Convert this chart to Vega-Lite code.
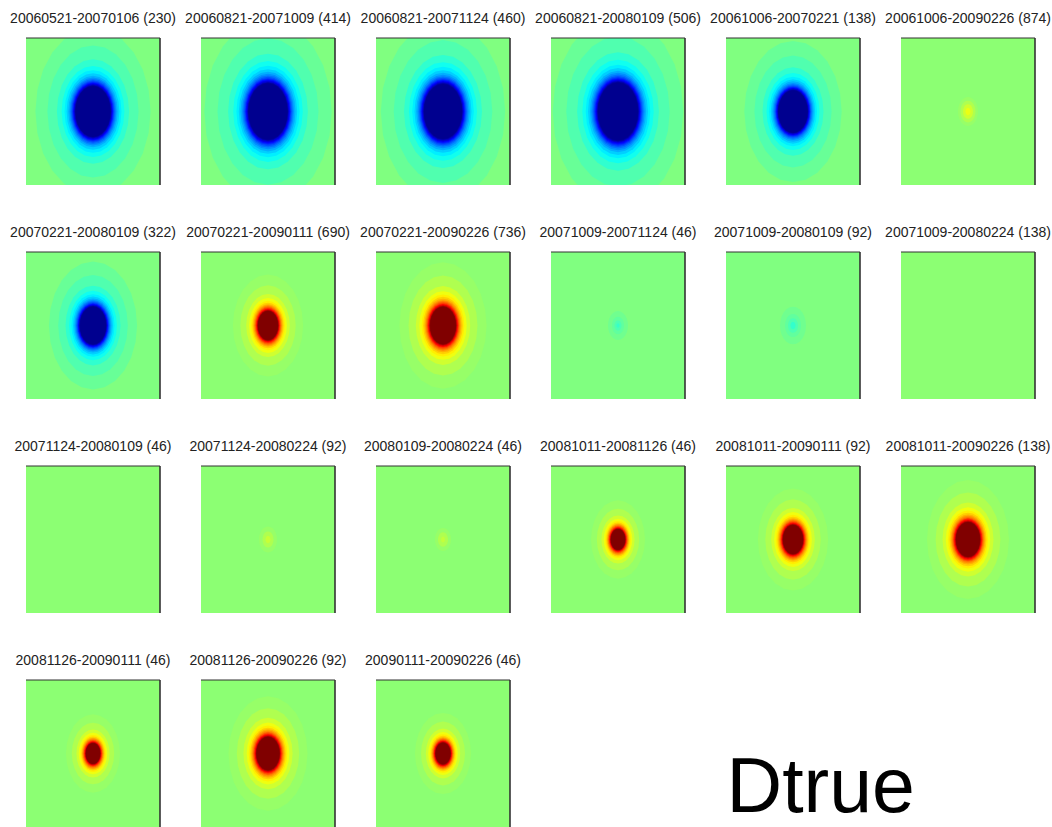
{
"$schema":"https://vega.github.io/schema/vega-lite/v6.json",
"background":"white",
"padding":{"left":10,"top":12,"right":0,"bottom":0},
"bounds":"flush",
"config":{"view":{"stroke":null}},
"data":{"values":[
{"i":1,"v":0,"r":200,"bg":1},{"i":1,"v":-0.047,"r":57.6},{"i":1,"v":-0.094,"r":45.6},{"i":1,"v":-0.156,"r":36.1},{"i":1,"v":-0.219,"r":31.4},{"i":1,"v":-0.281,"r":28.5},{"i":1,"v":-0.344,"r":26.4},{"i":1,"v":-0.406,"r":24.7},{"i":1,"v":-0.469,"r":23.4},{"i":1,"v":-0.531,"r":22.4},{"i":1,"v":-0.594,"r":21.5},{"i":1,"v":-0.656,"r":20.7},{"i":1,"v":-0.719,"r":20.0},{"i":1,"v":-0.781,"r":19.4},{"i":1,"v":-0.844,"r":18.9},{"i":1,"v":-0.906,"r":18.4},{"i":1,"v":-0.969,"r":17.9},{"i":1,"v":-1,"r":17.5},
{"i":2,"v":0,"r":200,"bg":1},{"i":2,"v":-0.047,"r":63.7},{"i":2,"v":-0.094,"r":50.5},{"i":2,"v":-0.156,"r":39.9},{"i":2,"v":-0.219,"r":34.8},{"i":2,"v":-0.281,"r":31.6},{"i":2,"v":-0.344,"r":29.2},{"i":2,"v":-0.406,"r":27.5},{"i":2,"v":-0.469,"r":26.0},{"i":2,"v":-0.531,"r":24.9},{"i":2,"v":-0.594,"r":23.9},{"i":2,"v":-0.656,"r":23.0},{"i":2,"v":-0.719,"r":22.3},{"i":2,"v":-0.781,"r":21.6},{"i":2,"v":-0.844,"r":21.0},{"i":2,"v":-0.906,"r":20.4},{"i":2,"v":-0.969,"r":20.0},{"i":2,"v":-1,"r":19.5},
{"i":3,"v":0,"r":200,"bg":1},{"i":3,"v":-0.047,"r":62.2},{"i":3,"v":-0.094,"r":49.3},{"i":3,"v":-0.156,"r":39.0},{"i":3,"v":-0.219,"r":34.0},{"i":3,"v":-0.281,"r":30.8},{"i":3,"v":-0.344,"r":28.5},{"i":3,"v":-0.406,"r":26.8},{"i":3,"v":-0.469,"r":25.4},{"i":3,"v":-0.531,"r":24.2},{"i":3,"v":-0.594,"r":23.3},{"i":3,"v":-0.656,"r":22.4},{"i":3,"v":-0.719,"r":21.7},{"i":3,"v":-0.781,"r":21.0},{"i":3,"v":-0.844,"r":20.5},{"i":3,"v":-0.906,"r":19.9},{"i":3,"v":-0.969,"r":19.4},{"i":3,"v":-1,"r":19.0},
{"i":4,"v":0,"r":200,"bg":1},{"i":4,"v":-0.047,"r":65.3},{"i":4,"v":-0.094,"r":51.7},{"i":4,"v":-0.156,"r":40.9},{"i":4,"v":-0.219,"r":35.7},{"i":4,"v":-0.281,"r":32.3},{"i":4,"v":-0.344,"r":30.0},{"i":4,"v":-0.406,"r":28.1},{"i":4,"v":-0.469,"r":26.7},{"i":4,"v":-0.531,"r":25.5},{"i":4,"v":-0.594,"r":24.5},{"i":4,"v":-0.656,"r":23.6},{"i":4,"v":-0.719,"r":22.8},{"i":4,"v":-0.781,"r":22.1},{"i":4,"v":-0.844,"r":21.5},{"i":4,"v":-0.906,"r":21.0},{"i":4,"v":-0.969,"r":20.5},{"i":4,"v":-1,"r":20.0},
{"i":5,"v":0,"r":200,"bg":1},{"i":5,"v":-0.047,"r":48.7},{"i":5,"v":-0.094,"r":38.6},{"i":5,"v":-0.156,"r":30.5},{"i":5,"v":-0.219,"r":26.5},{"i":5,"v":-0.281,"r":24.0},{"i":5,"v":-0.344,"r":22.2},{"i":5,"v":-0.406,"r":20.8},{"i":5,"v":-0.469,"r":19.7},{"i":5,"v":-0.531,"r":18.8},{"i":5,"v":-0.594,"r":18.0},{"i":5,"v":-0.656,"r":17.3},{"i":5,"v":-0.719,"r":16.8},{"i":5,"v":-0.781,"r":16.2},{"i":5,"v":-0.844,"r":15.8},{"i":5,"v":-0.906,"r":15.3},{"i":5,"v":-0.969,"r":15.0},{"i":5,"v":-1,"r":14.6},
{"i":6,"v":0.025,"r":200,"bg":1},{"i":6,"v":0.047,"r":10},{"i":6,"v":0.094,"r":7.5},{"i":6,"v":0.156,"r":5},{"i":6,"v":0.21,"r":2.5},
{"i":7,"v":0,"r":200,"bg":1},{"i":7,"v":-0.047,"r":44.1},{"i":7,"v":-0.094,"r":34.8},{"i":7,"v":-0.156,"r":27.5},{"i":7,"v":-0.219,"r":23.9},{"i":7,"v":-0.281,"r":21.6},{"i":7,"v":-0.344,"r":20.0},{"i":7,"v":-0.406,"r":18.7},{"i":7,"v":-0.469,"r":17.7},{"i":7,"v":-0.531,"r":16.9},{"i":7,"v":-0.594,"r":16.2},{"i":7,"v":-0.656,"r":15.5},{"i":7,"v":-0.719,"r":15.0},{"i":7,"v":-0.781,"r":14.5},{"i":7,"v":-0.844,"r":14.1},{"i":7,"v":-0.906,"r":13.7},{"i":7,"v":-0.969,"r":13.4},{"i":7,"v":-1,"r":13.0},
{"i":8,"v":0.025,"r":200,"bg":1},{"i":8,"v":0.047,"r":35.1},{"i":8,"v":0.094,"r":27.7},{"i":8,"v":0.156,"r":21.8},{"i":8,"v":0.219,"r":18.9},{"i":8,"v":0.281,"r":17.0},{"i":8,"v":0.344,"r":15.7},{"i":8,"v":0.406,"r":14.7},{"i":8,"v":0.469,"r":13.9},{"i":8,"v":0.531,"r":13.2},{"i":8,"v":0.594,"r":12.6},{"i":8,"v":0.656,"r":12.1},{"i":8,"v":0.719,"r":11.6},{"i":8,"v":0.781,"r":11.2},{"i":8,"v":0.844,"r":10.9},{"i":8,"v":0.906,"r":10.6},{"i":8,"v":0.969,"r":10.3},{"i":8,"v":1,"r":10.0},
{"i":9,"v":0.025,"r":200,"bg":1},{"i":9,"v":0.047,"r":43.6},{"i":9,"v":0.094,"r":34.5},{"i":9,"v":0.156,"r":27.2},{"i":9,"v":0.219,"r":23.7},{"i":9,"v":0.281,"r":21.4},{"i":9,"v":0.344,"r":19.8},{"i":9,"v":0.406,"r":18.5},{"i":9,"v":0.469,"r":17.5},{"i":9,"v":0.531,"r":16.7},{"i":9,"v":0.594,"r":16.0},{"i":9,"v":0.656,"r":15.4},{"i":9,"v":0.719,"r":14.9},{"i":9,"v":0.781,"r":14.4},{"i":9,"v":0.844,"r":14.0},{"i":9,"v":0.906,"r":13.6},{"i":9,"v":0.969,"r":13.2},{"i":9,"v":1,"r":12.9},
{"i":10,"v":0,"r":200,"bg":1},{"i":10,"v":-0.03,"r":10},{"i":10,"v":-0.06,"r":6},{"i":10,"v":-0.1,"r":3.5},{"i":10,"v":-0.14,"r":1.5},
{"i":11,"v":0,"r":200,"bg":1},{"i":11,"v":-0.03,"r":13},{"i":11,"v":-0.06,"r":8},{"i":11,"v":-0.1,"r":5},{"i":11,"v":-0.15,"r":2.5},
{"i":12,"v":0.025,"r":200,"bg":1},
{"i":13,"v":0.025,"r":200,"bg":1},
{"i":14,"v":0.025,"r":200,"bg":1},{"i":14,"v":0.047,"r":9},{"i":14,"v":0.094,"r":5.5},{"i":14,"v":0.14,"r":2.5},
{"i":15,"v":0.025,"r":200,"bg":1},{"i":15,"v":0.047,"r":8},{"i":15,"v":0.094,"r":5},{"i":15,"v":0.13,"r":2},
{"i":16,"v":0.025,"r":200,"bg":1},{"i":16,"v":0.047,"r":27.0},{"i":16,"v":0.094,"r":21.2},{"i":16,"v":0.156,"r":16.6},{"i":16,"v":0.219,"r":14.3},{"i":16,"v":0.281,"r":12.8},{"i":16,"v":0.344,"r":11.7},{"i":16,"v":0.406,"r":10.9},{"i":16,"v":0.469,"r":10.3},{"i":16,"v":0.531,"r":9.7},{"i":16,"v":0.594,"r":9.2},{"i":16,"v":0.656,"r":8.8},{"i":16,"v":0.719,"r":8.4},{"i":16,"v":0.781,"r":8.1},{"i":16,"v":0.844,"r":7.8},{"i":16,"v":0.906,"r":7.6},{"i":16,"v":0.969,"r":7.3},{"i":16,"v":1,"r":7.1},
{"i":17,"v":0.025,"r":200,"bg":1},{"i":17,"v":0.047,"r":35.1},{"i":17,"v":0.094,"r":27.7},{"i":17,"v":0.156,"r":21.8},{"i":17,"v":0.219,"r":18.9},{"i":17,"v":0.281,"r":17.0},{"i":17,"v":0.344,"r":15.7},{"i":17,"v":0.406,"r":14.7},{"i":17,"v":0.469,"r":13.9},{"i":17,"v":0.531,"r":13.2},{"i":17,"v":0.594,"r":12.6},{"i":17,"v":0.656,"r":12.1},{"i":17,"v":0.719,"r":11.6},{"i":17,"v":0.781,"r":11.2},{"i":17,"v":0.844,"r":10.9},{"i":17,"v":0.906,"r":10.6},{"i":17,"v":0.969,"r":10.3},{"i":17,"v":1,"r":10.0},
{"i":18,"v":0.025,"r":200,"bg":1},{"i":18,"v":0.047,"r":41.0},{"i":18,"v":0.094,"r":32.4},{"i":18,"v":0.156,"r":25.5},{"i":18,"v":0.219,"r":22.2},{"i":18,"v":0.281,"r":20.0},{"i":18,"v":0.344,"r":18.5},{"i":18,"v":0.406,"r":17.3},{"i":18,"v":0.469,"r":16.4},{"i":18,"v":0.531,"r":15.6},{"i":18,"v":0.594,"r":14.9},{"i":18,"v":0.656,"r":14.4},{"i":18,"v":0.719,"r":13.9},{"i":18,"v":0.781,"r":13.4},{"i":18,"v":0.844,"r":13.0},{"i":18,"v":0.906,"r":12.6},{"i":18,"v":0.969,"r":12.3},{"i":18,"v":1,"r":12.0},
{"i":19,"v":0.025,"r":200,"bg":1},{"i":19,"v":0.047,"r":27.0},{"i":19,"v":0.094,"r":21.2},{"i":19,"v":0.156,"r":16.6},{"i":19,"v":0.219,"r":14.3},{"i":19,"v":0.281,"r":12.8},{"i":19,"v":0.344,"r":11.7},{"i":19,"v":0.406,"r":10.9},{"i":19,"v":0.469,"r":10.3},{"i":19,"v":0.531,"r":9.7},{"i":19,"v":0.594,"r":9.2},{"i":19,"v":0.656,"r":8.8},{"i":19,"v":0.719,"r":8.4},{"i":19,"v":0.781,"r":8.1},{"i":19,"v":0.844,"r":7.8},{"i":19,"v":0.906,"r":7.6},{"i":19,"v":0.969,"r":7.3},{"i":19,"v":1,"r":7.1},
{"i":20,"v":0.025,"r":200,"bg":1},{"i":20,"v":0.047,"r":39.5},{"i":20,"v":0.094,"r":31.2},{"i":20,"v":0.156,"r":24.6},{"i":20,"v":0.219,"r":21.3},{"i":20,"v":0.281,"r":19.3},{"i":20,"v":0.344,"r":17.8},{"i":20,"v":0.406,"r":16.7},{"i":20,"v":0.469,"r":15.8},{"i":20,"v":0.531,"r":15.0},{"i":20,"v":0.594,"r":14.4},{"i":20,"v":0.656,"r":13.8},{"i":20,"v":0.719,"r":13.3},{"i":20,"v":0.781,"r":12.9},{"i":20,"v":0.844,"r":12.5},{"i":20,"v":0.906,"r":12.1},{"i":20,"v":0.969,"r":11.8},{"i":20,"v":1,"r":11.5},
{"i":21,"v":0.025,"r":200,"bg":1},{"i":21,"v":0.047,"r":28.0},{"i":21,"v":0.094,"r":22.0},{"i":21,"v":0.156,"r":17.2},{"i":21,"v":0.219,"r":14.8},{"i":21,"v":0.281,"r":13.3},{"i":21,"v":0.344,"r":12.2},{"i":21,"v":0.406,"r":11.3},{"i":21,"v":0.469,"r":10.7},{"i":21,"v":0.531,"r":10.1},{"i":21,"v":0.594,"r":9.6},{"i":21,"v":0.656,"r":9.2},{"i":21,"v":0.719,"r":8.8},{"i":21,"v":0.781,"r":8.5},{"i":21,"v":0.844,"r":8.2},{"i":21,"v":0.906,"r":7.9},{"i":21,"v":0.969,"r":7.6},{"i":21,"v":1,"r":7.4},
{"i":22,"lab":"Dtrue"}
]},
"transform":[{"lookup":"i","from":{"data":{"values":[
{"i":1,"t":"20060521-20070106 (230)"},{"i":2,"t":"20060821-20071009 (414)"},{"i":3,"t":"20060821-20071124 (460)"},{"i":4,"t":"20060821-20080109 (506)"},{"i":5,"t":"20061006-20070221 (138)"},{"i":6,"t":"20061006-20090226 (874)"},
{"i":7,"t":"20070221-20080109 (322)"},{"i":8,"t":"20070221-20090111 (690)"},{"i":9,"t":"20070221-20090226 (736)"},{"i":10,"t":"20071009-20071124 (46)"},{"i":11,"t":"20071009-20080109 (92)"},{"i":12,"t":"20071009-20080224 (138)"},
{"i":13,"t":"20071124-20080109 (46)"},{"i":14,"t":"20071124-20080224 (92)"},{"i":15,"t":"20080109-20080224 (46)"},{"i":16,"t":"20081011-20081126 (46)"},{"i":17,"t":"20081011-20090111 (92)"},{"i":18,"t":"20081011-20090226 (138)"},
{"i":19,"t":"20081126-20090111 (46)"},{"i":20,"t":"20081126-20090226 (92)"},{"i":21,"t":"20090111-20090226 (46)"},{"i":22,"t":" "}
]},"key":"i","fields":["t"]}}],
"facet":{"field":"t","type":"nominal","sort":{"field":"i","op":"min"},"header":{"title":null,"labelFontSize":14,"labelFont":"Liberation Sans","labelColor":"#222","labelPadding":11}},
"columns":6,
"spacing":{"column":41,"row":67},
"spec":{
"width":134,"height":147,
"layer":[
{"transform":[{"filter":"isValid(datum.r)"}],
"mark":{"type":"point","shape":"M1 0L0.966 0.375L0.866 0.725L0.707 1.025L0.5 1.256L0.259 1.401L0 1.45L-0.259 1.401L-0.5 1.256L-0.707 1.025L-0.866 0.725L-0.966 0.375L-1 0L-0.966 -0.375L-0.866 -0.725L-0.707 -1.025L-0.5 -1.256L-0.259 -1.401L0 -1.45L0.259 -1.401L0.5 -1.256L0.707 -1.025L0.866 -0.725L0.966 -0.375Z","filled":true,"opacity":1,"strokeWidth":0,"clip":true},
"encoding":{
"x":{"datum":0,"type":"quantitative","scale":{"domain":[-1,1]},"axis":null},
"y":{"datum":0,"type":"quantitative","scale":{"domain":[-1,1]},"axis":null},
"size":{"field":"r","type":"quantitative","scale":{"type":"pow","exponent":2,"domain":[0,100],"range":[0,40000]},"legend":null},
"color":{"field":"v","type":"quantitative","scale":{"domain":[-1,-0.75,-0.25,0.25,0.75,1],"range":["#00008f","#0000ff","#00ffff","#ffff00","#ff0000","#800000"],"interpolate":"rgb","clamp":true},"legend":null},
"order":{"field":"r","type":"quantitative","sort":"descending"}
}},
{"transform":[{"filter":"datum.bg == 1"}],
"mark":{"type":"rule","color":"#333","strokeWidth":1.2},
"encoding":{"y":{"datum":1,"type":"quantitative","scale":{"domain":[-1,1]},"axis":null}}},
{"transform":[{"filter":"datum.bg == 1"}],
"mark":{"type":"rule","color":"#333","strokeWidth":1.6},
"encoding":{"x":{"datum":1,"type":"quantitative","scale":{"domain":[-1,1]},"axis":null}}},
{"transform":[{"filter":"isValid(datum.lab)"}],
"mark":{"type":"text","align":"left","baseline":"alphabetic","fontSize":77,"font":"Liberation Sans","color":"#000"},
"encoding":{
"x":{"datum":1.62,"type":"quantitative","scale":{"domain":[-1,1]},"axis":null},
"y":{"datum":-0.79,"type":"quantitative","scale":{"domain":[-1,1]},"axis":null},
"text":{"field":"lab"}}}
]}
}
